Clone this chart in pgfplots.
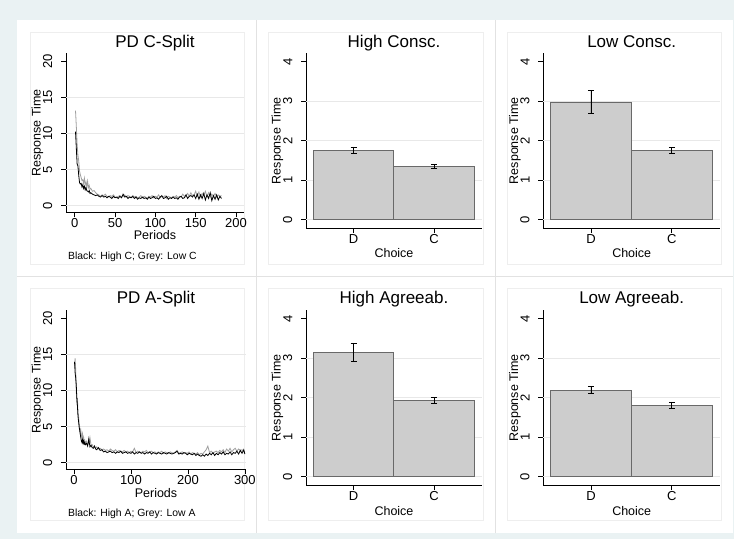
\documentclass[border=0pt]{standalone}
\usepackage{fontspec}
\setmainfont{Liberation Sans}
\usepackage{pgfplots}
\pgfplotsset{compat=1.18}
\definecolor{bgblue}{RGB}{234,242,243}
\definecolor{gridc}{RGB}{232,232,232}
\definecolor{cellc}{RGB}{226,226,226}
\definecolor{regc}{RGB}{238,238,238}
\definecolor{barfill}{RGB}{205,205,205}
\definecolor{baredge}{RGB}{105,105,105}
\definecolor{lowgrey}{RGB}{160,160,160}

\pgfplotsset{
  stbase/.style={
    scale only axis, anchor=south west,
    axis x line*=bottom, axis y line*=left,
    axis line style={black, line width=0.7pt, -},
    tick style={black, line width=0.7pt},
    major tick length=5pt,
    xtick align=outside, ytick align=outside,
    tick label style={font=\fontsize{13}{13}\selectfont},
    /pgf/number format/assume math mode=true,
    xticklabel style={inner sep=1pt},
    yticklabel style={xshift=-2.5pt, rotate=90, anchor=south, inner sep=6pt},
    clip=false,
  },
  linepanel/.style={stbase, width=178pt, height=159pt,
    ymin=-0.92, ymax=21.17, ytick={0,5,10,15,20}},
  barpanel/.style={stbase, width=176pt, height=174.7pt,
    xmin=-0.59, xmax=1.596, ymin=-0.21, ymax=4.21,
    ytick={0,1,2,3,4}, xtick={0,1}, xticklabels={D,C}},
  bars/.style={ybar, bar width=1, bar shift=0pt, fill=barfill, draw=baredge, line width=0.7pt,
    error bars/.cd, y dir=both, y explicit,
    error bar style={black, line width=0.7pt},
    error mark options={rotate=90, mark size=3pt, black, line width=0.7pt}},
}

\begin{document}
\begin{tikzpicture}[x=1pt,y=1pt]
% backgrounds
\fill[bgblue] (0,0) rectangle (734,539);
\fill[white] (17,6) rectangle (733,519);
\draw[cellc, line width=0.8pt] (256,6) -- (256,519);
\draw[cellc, line width=0.8pt] (495,6) -- (495,519);
\draw[cellc, line width=0.8pt] (17,263) -- (733,263);
\foreach \xa/\xb in {30/244,268/483,507/721}{
  \draw[regc, line width=0.8pt] (\xa,275) rectangle (\xb,507);
  \draw[regc, line width=0.8pt] (\xa,19) rectangle (\xb,251);
}

% ---------------- Panel 1: PD C-Split
\begin{axis}[linepanel, at={(66pt,326.7pt)}, xmin=-10.8, xmax=209.9, xtick={0,50,100,150,200}]
\foreach \v in {0,5,10,15}{\edef\tmp{\noexpand\draw[gridc, line width=0.8pt] (axis cs:-10.8,\v) -- (axis cs:209.9,\v);}\tmp}
\addplot[lowgrey, line width=0.8pt] coordinates {
(1,13.2)(2,11.0)(3,8.5)(4,7.0)(5,6.2)(6,4.8)(7,4.3)(8,3.9)(9,3.5)(10,3.6)(11,3.1)(12,3.8)(13,2.9)(14,3.3)(15,2.6)(16,3.4)(17,2.5)(18,2.8)(19,2.3)(20,2.4)
(22,2.0)(24,2.1)(26,1.8)(28,1.6)(30,1.5)(32,1.3)(34,1.5)(36,1.4)(38,1.6)(40,1.3)(42,1.2)(44,1.4)(46,1.3)(48,1.5)(50,1.2)(52,1.1)(54,1.3)(56,1.4)(58,1.2)(60,1.3)
(62,1.5)(64,1.2)(66,1.4)(68,1.3)(70,1.1)(72,1.4)(74,1.2)(76,1.3)(78,1.1)(80,1.2)(82,1.4)(84,1.1)(86,1.3)(88,1.2)(90,1.0)(92,1.3)(94,1.2)(96,1.4)(98,1.1)(100,1.3)
(102,1.2)(104,1.5)(106,1.1)(108,1.3)(110,1.2)(112,1.4)(114,1.0)(116,1.3)(118,1.2)(120,1.1)(122,1.3)(124,1.2)(126,1.4)(128,1.1)(130,1.3)(132,1.2)(134,1.6)(136,1.3)(138,1.4)(140,1.7)
(142,1.3)(144,1.8)(146,1.4)(148,1.5)(150,2.0)(152,1.3)(154,1.9)(156,1.2)(158,1.7)(160,1.4)(162,2.0)(164,1.3)(166,1.8)(168,1.2)(170,1.6)(172,1.3)(174,1.7)(176,1.2)(178,1.5)(180,1.3)(182,1.4)};
\addplot[black, line width=0.8pt] coordinates {
(1,10.3)(2,8.0)(3,5.8)(4,5.5)(5,4.2)(6,3.2)(7,3.0)(8,3.1)(9,2.6)(10,2.9)(11,2.4)(12,2.7)(13,2.2)(14,2.5)(15,2.1)(16,2.0)(17,1.9)(18,2.1)(19,1.7)(20,1.8)
(22,1.6)(24,1.5)(26,1.4)(28,1.5)(30,1.3)(32,1.2)(34,1.4)(36,1.2)(38,1.3)(40,1.1)(42,1.3)(44,1.2)(46,1.0)(48,1.3)(50,1.1)(52,1.2)(54,1.0)(56,1.3)(58,1.1)(60,1.6)
(62,1.2)(64,1.3)(66,1.0)(68,1.2)(70,1.1)(72,1.3)(74,1.0)(76,1.2)(78,0.9)(80,1.1)(82,1.0)(84,1.2)(86,1.0)(88,1.1)(90,0.9)(92,1.2)(94,1.0)(96,1.1)(98,1.3)(100,1.0)
(102,1.1)(104,0.9)(106,1.2)(108,1.4)(110,1.0)(112,1.1)(114,1.3)(116,0.9)(118,1.1)(120,1.0)(122,1.2)(124,1.0)(126,1.1)(128,0.9)(130,1.2)(132,1.3)(134,1.0)(136,1.1)(138,1.5)(140,1.0)
(142,1.3)(144,1.4)(146,1.2)(148,1.5)(150,1.0)(152,1.6)(154,0.9)(156,1.5)(158,1.0)(160,1.7)(162,0.8)(164,1.5)(166,1.0)(168,1.8)(170,0.7)(172,1.4)(174,0.9)(176,1.5)(178,0.8)(180,1.3)(182,1.0)};
\end{axis}

% ---------------- Panel 4: PD A-Split
\begin{axis}[linepanel, at={(66pt,69.7pt)}, width=180pt, xmin=-14, xmax=302, xtick={0,100,200,300}]
\foreach \v in {0,5,10,15}{\edef\tmp{\noexpand\draw[gridc, line width=0.8pt] (axis cs:-14,\v) -- (axis cs:302,\v);}\tmp}
\addplot[lowgrey, line width=0.8pt] coordinates {
(1,13.5)(2,14.5)(3,13.0)(4,10.0)(5,8.5)(6,9.0)(7,7.0)(8,6.5)(9,5.5)(10,5.0)(11,4.2)(12,4.5)(13,3.8)(14,3.5)(15,4.0)(16,3.2)(17,3.5)(18,2.9)(19,3.1)(20,2.8)
(22,3.0)(24,2.6)(26,2.7)(28,3.5)(30,2.4)(32,2.5)(34,2.2)(36,2.3)(38,2.0)(40,2.2)(43,1.9)(46,2.0)(49,1.8)(52,1.9)(55,1.7)(58,1.8)(61,1.6)(64,1.9)(67,1.7)(70,1.6)
(73,1.8)(76,1.5)(79,1.7)(82,1.6)(85,1.5)(88,1.7)(91,1.5)(94,1.6)(97,1.4)(100,1.6)(103,1.5)(106,2.0)(109,1.4)(112,1.6)(115,1.5)(118,1.4)(121,1.6)(124,1.5)(127,1.7)(130,1.4)
(133,1.5)(136,1.6)(139,1.4)(142,1.5)(145,1.3)(148,1.5)(151,1.4)(154,1.6)(157,1.3)(160,1.5)(163,1.4)(166,1.3)(169,1.5)(172,1.4)(175,1.3)(178,1.5)(181,1.7)(184,1.3)(187,1.4)(190,1.5)
(193,1.3)(196,1.4)(199,1.3)(202,1.5)(205,1.2)(208,1.4)(211,1.3)(214,1.2)(217,1.4)(220,1.1)(223,1.3)(226,1.2)(229,1.5)(232,1.8)(235,2.3)(238,1.4)(241,1.6)(244,1.3)(247,1.5)(250,1.6)
(253,1.4)(256,1.7)(259,1.5)(262,1.8)(265,1.4)(268,1.9)(271,1.6)(274,2.0)(277,1.5)(280,1.8)(283,2.0)(286,1.6)(289,1.9)(292,1.7)(295,1.8)(298,1.5)(300,1.6)};
\addplot[black, line width=0.8pt] coordinates {
(1,14.0)(2,12.5)(3,11.8)(4,10.8)(5,9.0)(6,8.0)(7,6.5)(8,5.8)(9,5.0)(10,4.5)(11,4.0)(12,3.5)(13,3.0)(14,2.8)(15,3.2)(16,2.7)(17,3.0)(18,2.6)(19,2.8)(20,2.5)
(22,2.7)(24,2.3)(26,3.3)(28,2.2)(30,2.4)(32,2.1)(34,2.0)(36,2.3)(38,1.9)(40,1.8)(43,2.1)(46,1.7)(49,1.8)(52,1.5)(55,1.6)(58,1.4)(61,1.5)(64,1.6)(67,1.4)(70,1.5)
(73,1.3)(76,1.5)(79,1.4)(82,1.6)(85,1.3)(88,1.4)(91,1.5)(94,1.3)(97,1.4)(100,1.3)(103,1.5)(106,1.2)(109,1.4)(112,1.3)(115,1.5)(118,1.3)(121,1.4)(124,1.2)(127,1.4)(130,1.3)
(133,1.5)(136,1.2)(139,1.4)(142,1.3)(145,1.2)(148,1.4)(151,1.3)(154,1.2)(157,1.4)(160,1.3)(163,1.2)(166,1.4)(169,1.3)(172,1.2)(175,1.3)(178,1.4)(181,1.6)(184,1.2)(187,1.3)(190,1.2)
(193,1.4)(196,1.3)(199,1.1)(202,1.3)(205,1.2)(208,1.1)(211,1.3)(214,1.0)(217,1.2)(220,1.0)(223,0.9)(226,1.1)(229,0.9)(232,1.2)(235,1.0)(238,1.3)(241,1.1)(244,1.4)(247,1.0)(250,1.3)
(253,1.1)(256,1.4)(259,1.2)(262,1.5)(265,1.1)(268,1.3)(271,1.2)(274,1.5)(277,1.1)(280,1.4)(283,1.3)(286,1.6)(289,1.2)(292,1.7)(295,1.3)(298,1.8)(300,1.2)};
\end{axis}

% ---------------- Panel 2: High Consc.
\begin{axis}[barpanel, at={(306pt,311pt)}]
\foreach \v in {0,1,2,3}{\edef\tmp{\noexpand\draw[gridc, line width=0.8pt] (axis cs:-0.59,\v) -- (axis cs:1.596,\v);}\tmp}
\addplot[bars] coordinates {(0,1.75) += (0,0.09) -= (0,0.08) (1,1.35) += (0,0.05) -= (0,0.05)};
\end{axis}

% ---------------- Panel 3: Low Consc.
\begin{axis}[barpanel, at={(543.3pt,311pt)}, width=176.7pt]
\foreach \v in {0,1,2,3}{\edef\tmp{\noexpand\draw[gridc, line width=0.8pt] (axis cs:-0.59,\v) -- (axis cs:1.596,\v);}\tmp}
\addplot[bars] coordinates {(0,2.98) += (0,0.28) -= (0,0.28) (1,1.75) += (0,0.07) -= (0,0.07)};
\end{axis}

% ---------------- Panel 5: High Agreeab.
\begin{axis}[barpanel, at={(306pt,54pt)}]
\foreach \v in {0,1,2,3}{\edef\tmp{\noexpand\draw[gridc, line width=0.8pt] (axis cs:-0.59,\v) -- (axis cs:1.596,\v);}\tmp}
\addplot[bars] coordinates {(0,3.15) += (0,0.23) -= (0,0.23) (1,1.93) += (0,0.07) -= (0,0.07)};
\end{axis}

% ---------------- Panel 6: Low Agreeab.
\begin{axis}[barpanel, at={(543.3pt,54pt)}, width=176.7pt]
\foreach \v in {0,1,2,3}{\edef\tmp{\noexpand\draw[gridc, line width=0.8pt] (axis cs:-0.59,\v) -- (axis cs:1.596,\v);}\tmp}
\addplot[bars] coordinates {(0,2.19) += (0,0.09) -= (0,0.08) (1,1.81) += (0,0.08) -= (0,0.08)};
\end{axis}

% ---------------- Titles and labels
\begin{scope}[every node/.style={inner sep=0pt}]
\def\tf{\fontsize{17}{17}\selectfont}
\def\lf{\fontsize{12.5}{12.5}\selectfont}
\def\nf{\fontsize{10.4}{10.4}\selectfont}
\node[anchor=base, font=\tf] at (155,491.5) {PD C-Split};
\node[anchor=base, font=\tf] at (394,491.5) {High Consc.};
\node[anchor=base, font=\tf] at (631.7,491.5) {Low Consc.};
\node[anchor=base, font=\tf] at (156,235.5) {PD A-Split};
\node[anchor=base, font=\tf] at (394,235.5) {High Agreeab.};
\node[anchor=base, font=\tf] at (631.7,235.5) {Low Agreeab.};
% y labels
\foreach \xx/\yy in {37.5/406.2, 277.5/398.4, 515/398.4, 37.5/149.2, 277.5/141.4, 515/141.4}{
  \node[rotate=90, font=\lf] at (\xx,\yy) {Response Time};
}
% x labels
\node[anchor=base, font=\lf] at (155,299) {Periods};
\node[anchor=base, font=\lf] at (156,42) {Periods};
\node[anchor=base, font=\lf] at (394,281) {Choice};
\node[anchor=base, font=\lf] at (631.7,281) {Choice};
\node[anchor=base, font=\lf] at (394,24) {Choice};
\node[anchor=base, font=\lf] at (631.7,24) {Choice};
% notes
\node[anchor=base west, font=\nf] at (68,279) {Black: High C; Grey: Low C};
\node[anchor=base west, font=\nf] at (68,23) {Black: High A; Grey: Low A};
\end{scope}
\end{tikzpicture}
\end{document}
